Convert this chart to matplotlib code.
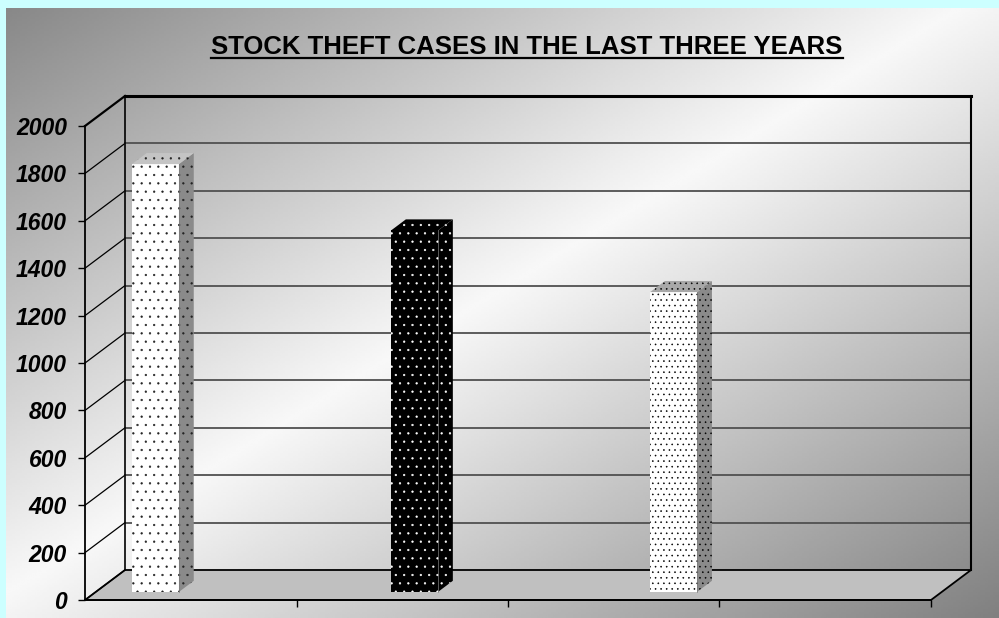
import numpy as np
import matplotlib
matplotlib.use("Agg")
import matplotlib.pyplot as plt
from matplotlib.patches import Polygon
from matplotlib.lines import Line2D

plt.rcParams['font.family'] = ['Liberation Sans', 'DejaVu Sans']
plt.rcParams['hatch.linewidth'] = 0.4

# data
title = "STOCK THEFT CASES IN THE LAST THREE YEARS"
values = [1805, 1525, 1265]
y_ticks = [0, 200, 400, 600, 800, 1000, 1200, 1400, 1600, 1800, 2000]
face_colors = ['white', 'black', 'white']
dot_colors = ['#222222', 'white', 'black']
side_colors = ['#8a8a8a', 'black', '#8a8a8a']
top_colors = ['#c4c4c4', 'black', '#a8a8a8']
hatches = ['..', '..', '...']

W, H = 999, 618
fig = plt.figure(figsize=(W / 100, H / 100), dpi=100, facecolor='#CCFFFF')

# gradient background
bg = fig.add_axes([6 / W, 0, 1 - 6 / W, 1 - 8 / H], zorder=-5)
u = np.linspace(0, 1, 400)[None, :]
v = np.linspace(0, 1, 250)[:, None]
s = (u + v) / 2
c0, c1, c2 = 136, 248, 128
img = np.where(s < 0.48, c0 + (c1 - c0) * (s / 0.48), c1 + (c2 - c1) * ((s - 0.48) / 0.52))
bg.imshow(img, cmap='gray', vmin=0, vmax=255, aspect='auto', extent=(0, 1, 1, 0))
bg.axis('off')

# chart axes, front plane with a fake 3d depth
n_slots = 4
DX = 40 / 211.5          # depth offset in x units
DY = 126.6               # depth offset in y units
top = 2000
ax = fig.add_axes([85 / W, 18 / H, 886 / W, 504 / H])
ax.set_xlim(0, n_slots + DX)
ax.set_ylim(0, top + DY)
ax.patch.set_alpha(0)

for sp in ['top', 'right']:
    ax.spines[sp].set_visible(False)
ax.spines['left'].set_bounds(0, top)
ax.spines['bottom'].set_bounds(0, n_slots)
ax.spines['left'].set_linewidth(1.3)
ax.spines['bottom'].set_linewidth(1.3)

ax.set_yticks(y_ticks)
ax.set_yticklabels([str(t) for t in y_ticks], fontsize=16.5, fontweight='bold', fontstyle='italic')
ax.tick_params(axis='y', length=5, width=1, pad=8)
ax.set_xticks(range(1, n_slots + 1))
ax.set_xticklabels([])
ax.tick_params(axis='x', length=5, width=1)

# floor
ax.add_patch(Polygon([(0, 0), (n_slots, 0), (n_slots + DX, DY), (DX, DY)],
                     closed=True, facecolor='#c0c0c0', edgecolor='black', lw=1.3, clip_on=False))

# side wall diagonals and back wall gridlines
for t in y_ticks:
    ax.plot([0, DX], [t, t + DY], color='black', lw=1.6 if t == top else 0.9, clip_on=False)
    if 0 < t < top:
        ax.plot([DX, n_slots + DX], [t + DY, t + DY], color='#505050', lw=1.3, clip_on=False)
ax.plot([DX, n_slots + DX], [top + DY, top + DY], color='black', lw=2.2, clip_on=False)
ax.plot([DX, DX], [DY, top + DY], color='black', lw=1.2, clip_on=False)
ax.plot([n_slots + DX, n_slots + DX], [DY, top + DY], color='black', lw=1.5, clip_on=False)

# bars
f0 = 0.27                 # depth where bars start
bd = 0.37                 # bar depth
bw = 47 / 211.5
x0 = 0.222 - f0 * DX
step = 1.225
bdx, bdy = bd * DX, bd * DY
yb = f0 * DY
for i, val in enumerate(values):
    xl = x0 + i * step + f0 * DX
    ax.bar(xl, val, width=bw, bottom=yb, align='edge', facecolor=face_colors[i],
           edgecolor=dot_colors[i], hatch=hatches[i], lw=0, zorder=5)
    side = [(xl + bw, yb), (xl + bw + bdx, yb + bdy), (xl + bw + bdx, yb + bdy + val), (xl + bw, yb + val)]
    ax.add_patch(Polygon(side, closed=True, facecolor=side_colors[i], edgecolor=dot_colors[i],
                         hatch=hatches[i], lw=0, zorder=5))
    topf = [(xl, yb + val), (xl + bw, yb + val), (xl + bw + bdx, yb + val + bdy), (xl + bdx, yb + val + bdy)]
    ax.add_patch(Polygon(topf, closed=True, facecolor=top_colors[i], edgecolor=dot_colors[i],
                         hatch=hatches[i], lw=0, zorder=5))
    ax.plot([xl + bw, xl + bw], [yb, yb + val], color='#7a7a7a', lw=0.5, zorder=6)

# title with underline
t = fig.text(527 / W, 1 - 54 / H, title, ha='center', va='baseline',
             fontsize=18.5, fontweight='bold')
fig.canvas.draw()
bb = t.get_window_extent()
fig.add_artist(Line2D([bb.x0 / W, bb.x1 / W], [1 - 58 / H, 1 - 58 / H],
                      transform=fig.transFigure, color='black', lw=1.6))

fig.savefig('out.png', dpi=100, facecolor=fig.get_facecolor())
